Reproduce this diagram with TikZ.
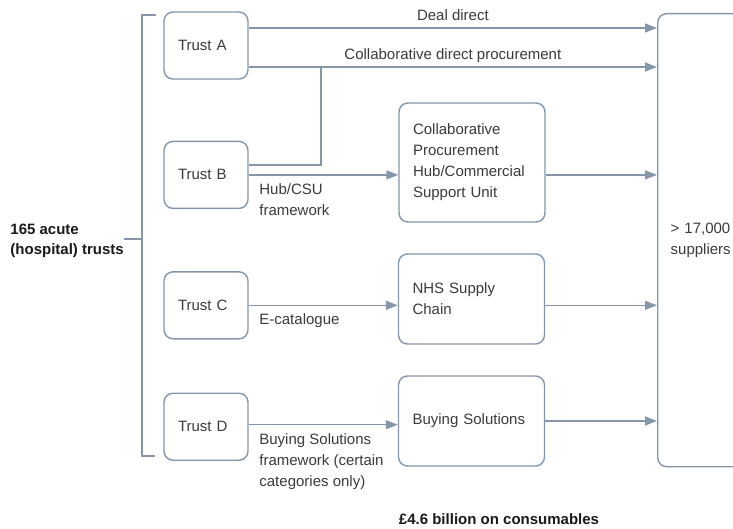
\documentclass[tikz,border=0pt]{standalone}
\usepackage{fontspec}
\setmainfont{Liberation Sans}
\usepackage{tikz}
\usetikzlibrary{arrows.meta}
\usetikzlibrary{positioning}
\definecolor{linegray}{RGB}{134,150,170}
\definecolor{txtgray}{RGB}{58,58,58}
\definecolor{txtdark}{RGB}{25,25,25}
\tikzset{
  trust/.style={draw=linegray, line width=1.4pt, rounded corners=9pt, minimum width=84pt, minimum height=67pt, text width=56pt, inner xsep=14pt, align=left, text=txtgray},
  route/.style={trust, minimum width=146pt, text width=118pt, minimum height=90pt},
  arr/.style={draw=linegray, line width=1.4pt, -{Triangle[length=12pt,width=9pt]}},
  plain/.style={draw=linegray, line width=1.4pt},
  lbl/.style={text=txtgray, align=left, inner sep=0pt},
  headlbl/.style={text=txtdark, align=left, inner sep=0pt, font=\fontsize{15}{20}\selectfont\bfseries},
}
\begin{document}
\begin{tikzpicture}[x=1pt, y=-1pt, font=\fontsize{15}{21}\selectfont]
  \clip (0,0) rectangle (733,529);
  % Define nodes
  \node[trust]                       (trustA) at (206,45.5) {Trust A};
  \node[trust, below=61pt of trustA] (trustB) {Trust B};
  \node[trust, below=62pt of trustB] (trustC) {Trust C};
  \node[trust, below=53pt of trustC] (trustD) {Trust D};
  \node[route, minimum height=119pt] (hub) at (472,162.5) {Collaborative\\Procurement\\Hub/Commercial\\Support Unit};
  \node[route] (nhs) at (471.5,299) {NHS Supply\\Chain};
  \node[route] (bs) at (471.5,421) {Buying Solutions};
  \node[trust, anchor=north west, minimum width=106pt, minimum height=453pt, inner xsep=13pt, text width=80pt] (suppliers) at (657,13) {> 17,000\\suppliers};
  \node[headlbl, anchor=east] (trusts) at (124,240.5) {165 acute\\(hospital) trusts};
  \node[headlbl] (spend) at (499,519) {£4.6 billion on consumables};
  \coordinate (brace) at (142,239);
  \coordinate (dd) at ([yshift=17.5pt]trustA.east);
  \coordinate (cdp) at ([yshift=-21.5pt]trustA.east);
  \coordinate (join) at (321,0);
  % Connect the nodes
  \draw[plain] (156,15) -- (142,15) -- (142,456) -- (155,456) ; %
  \draw[plain] (trusts.east |- brace) -- (brace) ; %
  \draw[arr] (dd) -- node[lbl, anchor=base, yshift=7.5pt] {Deal direct} (dd -| suppliers.west) ; %
  \draw[arr] (cdp) -- node[lbl, anchor=base, yshift=7.5pt] {Collaborative direct procurement} (cdp -| suppliers.west) ; %
  \draw[plain] ([yshift=10pt]trustB.east) -| (join |- cdp) ; %
  \draw[arr] (trustB.east) -- node[lbl, pos=0, anchor=north west, xshift=10pt, yshift=-8pt] {Hub/CSU\\framework} (trustB.east -| hub.west) ; %
  \draw[arr] (trustB.east -| hub.east) -- (trustB.east -| suppliers.west) ; %
  \draw[arr] (trustC.east) -- node[lbl, pos=0, anchor=north west, xshift=10pt, yshift=-8pt] {E-catalogue} (trustC.east -| nhs.west) ; %
  \draw[arr] (trustC.east -| nhs.east) -- (trustC.east -| suppliers.west) ; %
  \draw[arr] ([yshift=2pt]trustD.east) -- node[lbl, pos=0, anchor=north west, xshift=10pt, yshift=-8pt] {Buying Solutions\\framework (certain\\categories only)} ([yshift=2pt]trustD.east -| bs.west) ; %
  \draw[arr] (bs.east) -- (bs.east -| suppliers.west) ; %
\end{tikzpicture}
\end{document}
